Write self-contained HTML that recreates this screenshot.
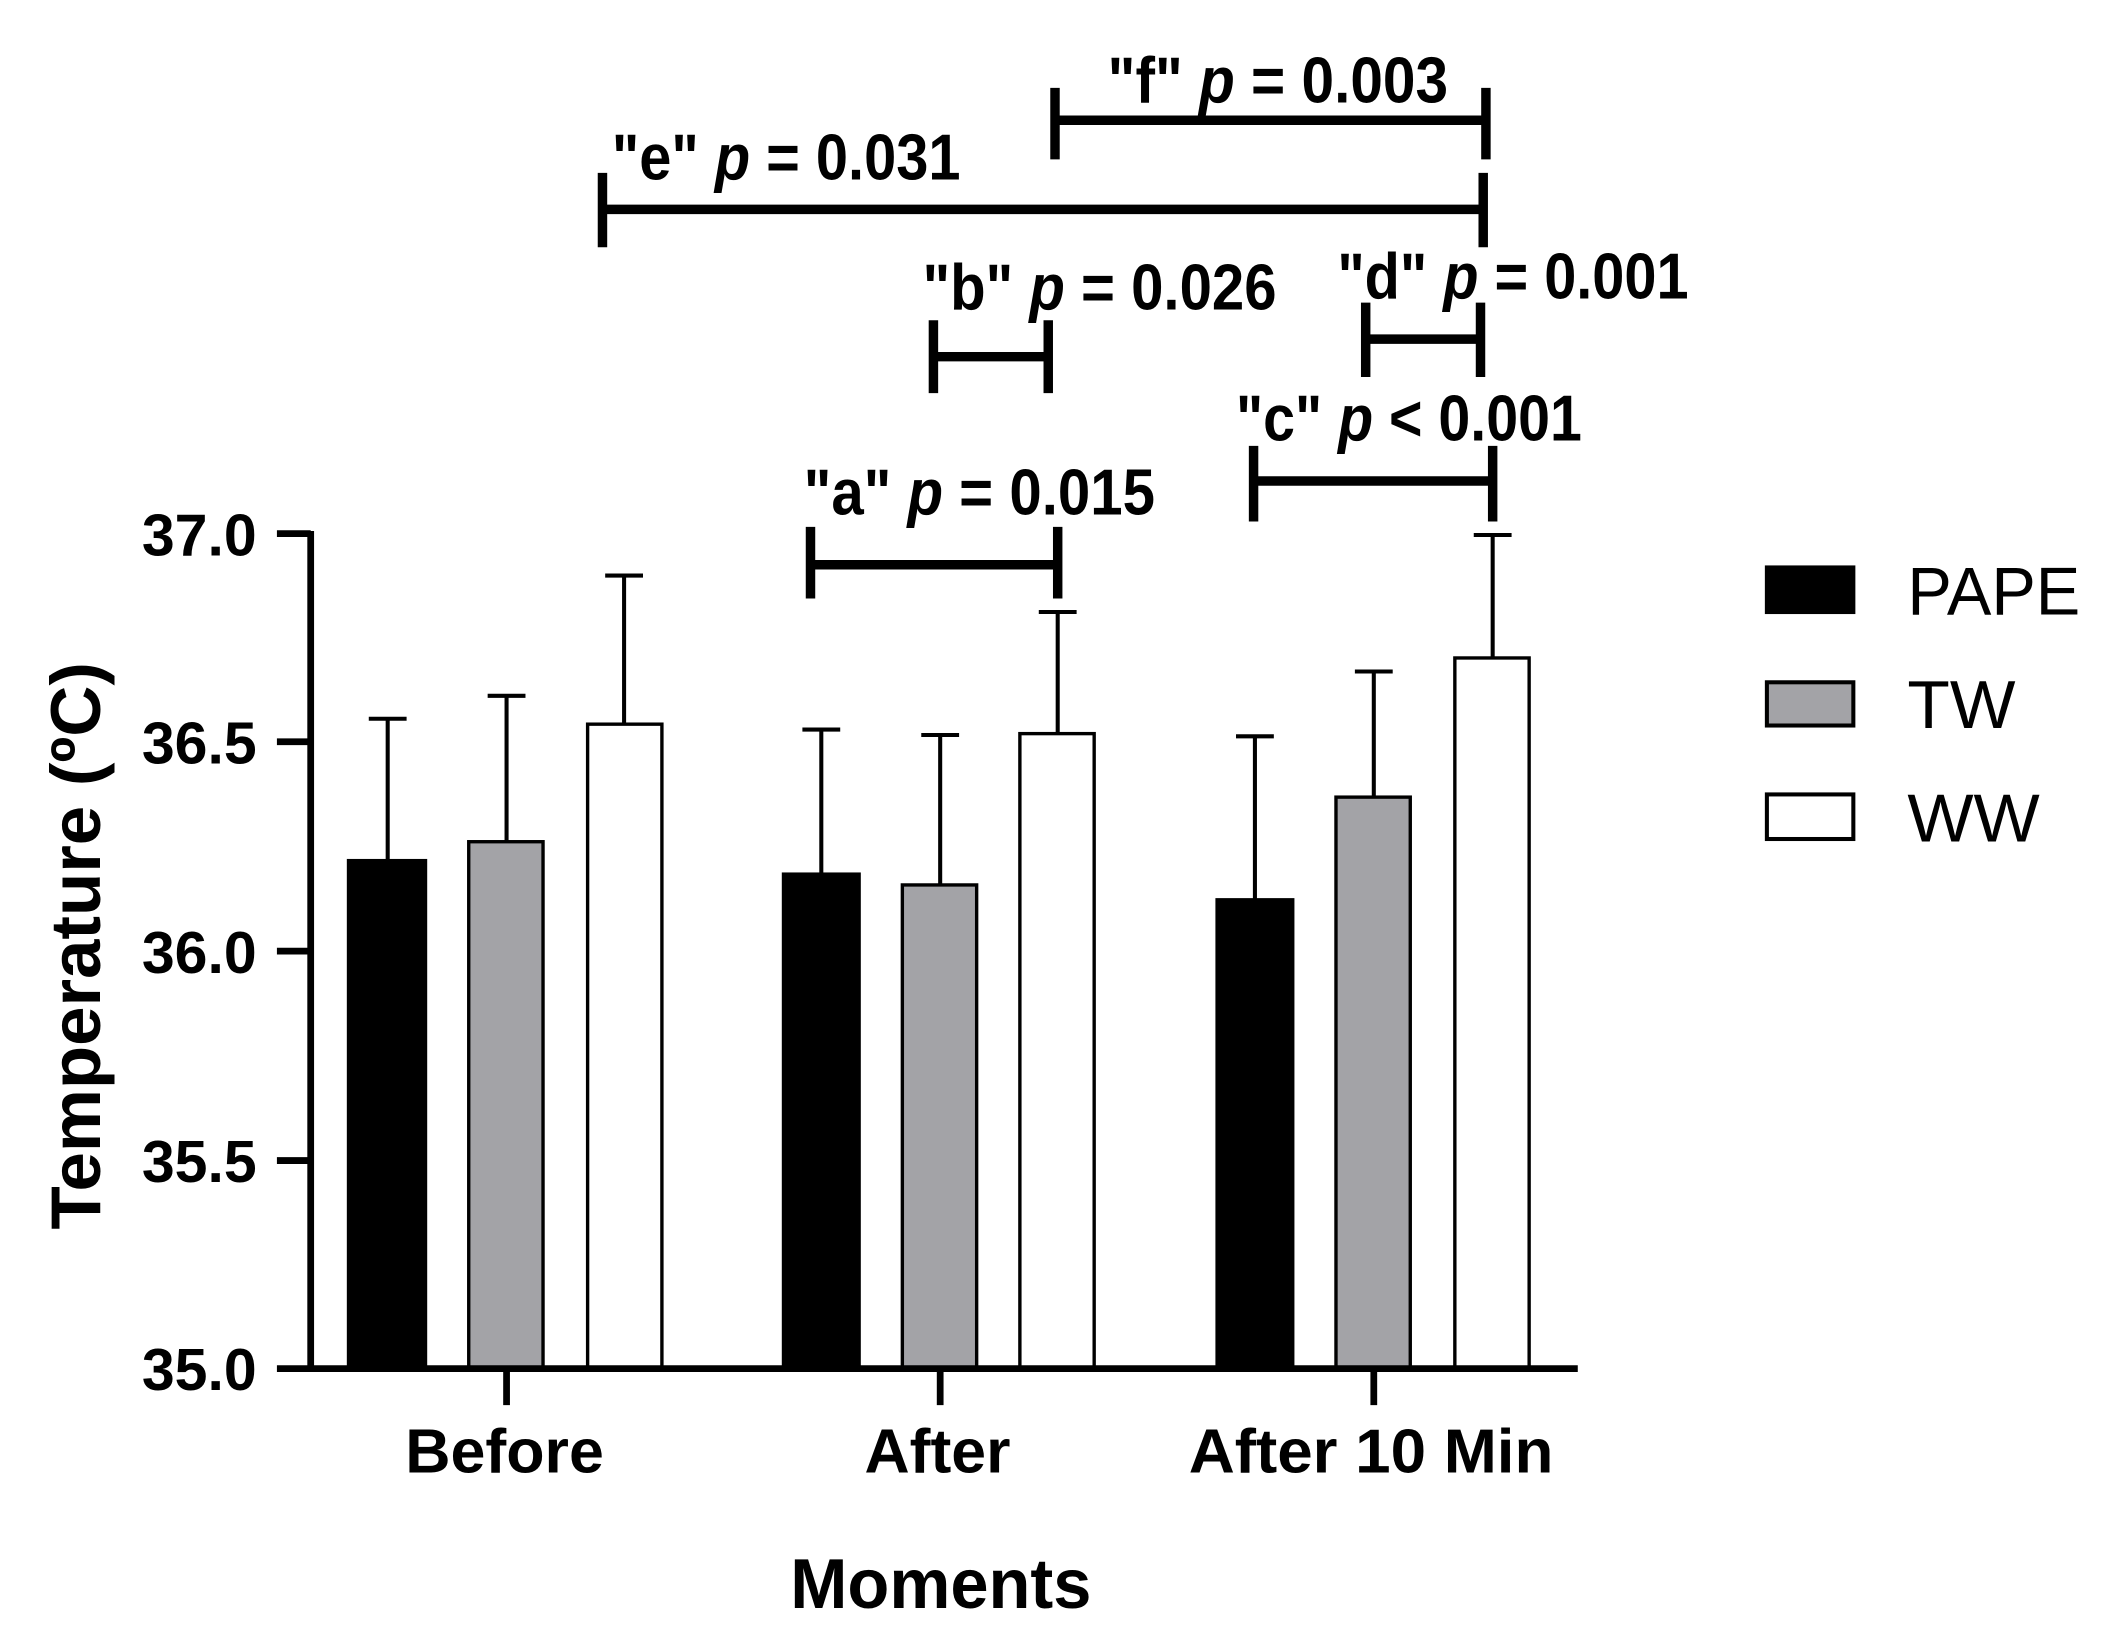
<!DOCTYPE html>
<html><head><style>html,body{margin:0;padding:0;background:#fff}svg{display:block}</style></head><body>
<svg width="2110" height="1651" viewBox="0 0 1562 1222" preserveAspectRatio="none" xmlns="http://www.w3.org/2000/svg" font-family="Liberation Sans, Arial, sans-serif">
<g stroke="#000" stroke-width="2.5">
<rect x="258" y="637" width="57" height="376" fill="#000"/>
<rect x="347" y="623" width="55" height="390" fill="#a3a3a7"/>
<rect x="435" y="536" width="55" height="477" fill="#fff"/>
<rect x="580" y="647" width="56" height="366" fill="#000"/>
<rect x="668" y="655" width="55" height="358" fill="#a3a3a7"/>
<rect x="755" y="543" width="55" height="470" fill="#fff"/>
<rect x="901" y="666" width="56" height="347" fill="#000"/>
<rect x="989" y="590" width="55" height="423" fill="#a3a3a7"/>
<rect x="1077" y="487" width="55" height="526" fill="#fff"/>
</g>
<g stroke="#000" stroke-width="3" fill="none">
<path d="M287 637V532M273 532H301"/>
<path d="M375 623V515M361 515H389"/>
<path d="M462 536V426M448 426H476"/>
<path d="M608 647V540M594 540H622"/>
<path d="M696 655V544M682 544H710"/>
<path d="M783 543V453M769 453H797"/>
<path d="M929 666V545M915 545H943"/>
<path d="M1017 590V497M1003 497H1031"/>
<path d="M1105 487V396M1091 396H1119"/>
</g>
<g stroke="#000" stroke-width="5" fill="none">
<path d="M230 393V1015M205 395H230M205 549H230M205 704H230M205 859H230M205 1013H230"/>
<path d="M228 1013H1168M375 1013V1040M696 1013V1040M1017 1013V1040"/>
</g>
<g font-weight="bold" font-size="44">
<text x="105" y="411" textLength="85" lengthAdjust="spacingAndGlyphs">37.0</text>
<text x="105" y="565" textLength="85" lengthAdjust="spacingAndGlyphs">36.5</text>
<text x="105" y="720" textLength="85" lengthAdjust="spacingAndGlyphs">36.0</text>
<text x="105" y="875" textLength="85" lengthAdjust="spacingAndGlyphs">35.5</text>
<text x="105" y="1029" textLength="85" lengthAdjust="spacingAndGlyphs">35.0</text>
</g>
<g font-weight="bold" font-size="46">
<text x="300" y="1090" textLength="147" lengthAdjust="spacingAndGlyphs">Before</text>
<text x="640" y="1090" textLength="108" lengthAdjust="spacingAndGlyphs">After</text>
<text x="880" y="1090" textLength="270" lengthAdjust="spacingAndGlyphs">After 10 Min</text>
<text x="585" y="1190" font-size="52" textLength="223" lengthAdjust="spacingAndGlyphs">Moments</text>
<text transform="translate(74 910) rotate(-90)" font-size="52" textLength="420" lengthAdjust="spacingAndGlyphs">Temperature (ºC)</text>
</g>
<g stroke="#000" stroke-width="3">
<rect x="1308" y="420" width="64" height="33" fill="#000"/>
<rect x="1308" y="505" width="64" height="32" fill="#a3a3a7"/>
<rect x="1308" y="588" width="64" height="33" fill="#fff"/>
</g>
<g font-size="50">
<text x="1412" y="455" textLength="128" lengthAdjust="spacingAndGlyphs">PAPE</text>
<text x="1412" y="539" textLength="80" lengthAdjust="spacingAndGlyphs">TW</text>
<text x="1412" y="623" textLength="98" lengthAdjust="spacingAndGlyphs">WW</text>
</g>
<g stroke="#000" stroke-width="7" fill="none">
<path d="M600 418H783M600 390V443M783 390V443"/>
<path d="M691 264H776M691 237V291M776 237V291"/>
<path d="M928 356H1105M928 330V386M1105 330V386"/>
<path d="M1011 251H1096M1011 224V279M1096 224V279"/>
<path d="M446 155H1098M446 128V183M1098 128V183"/>
<path d="M781 89H1100M781 65V118M1100 65V118"/>
</g>
<g font-weight="bold" font-size="48">
<text x="595" y="381" textLength="260" lengthAdjust="spacingAndGlyphs">"a" <tspan font-style="italic">p</tspan> = 0.015</text>
<text x="683" y="229" textLength="262" lengthAdjust="spacingAndGlyphs">"b" <tspan font-style="italic">p</tspan> = 0.026</text>
<text x="915" y="326" textLength="256" lengthAdjust="spacingAndGlyphs">"c" <tspan font-style="italic">p</tspan> &lt; 0.001</text>
<text x="990" y="221" textLength="260" lengthAdjust="spacingAndGlyphs">"d" <tspan font-style="italic">p</tspan> = 0.001</text>
<text x="453" y="133" textLength="258" lengthAdjust="spacingAndGlyphs">"e" <tspan font-style="italic">p</tspan> = 0.031</text>
<text x="820" y="76" textLength="252" lengthAdjust="spacingAndGlyphs">"f" <tspan font-style="italic">p</tspan> = 0.003</text>
</g>
</svg>
</body></html>
